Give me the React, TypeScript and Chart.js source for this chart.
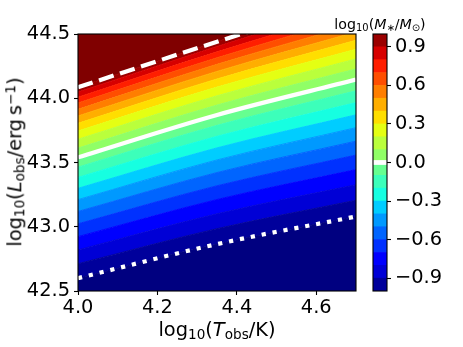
import React, { useEffect, useRef } from "react";
import { Chart, registerables } from "chart.js";

Chart.register(...registerables);
Chart.defaults.font.family = "'DejaVu Sans'";
Chart.defaults.color = "#000";

// ---- data ----
const LEVELS = [-1.0, -0.9, -0.8, -0.7, -0.6, -0.5, -0.4, -0.3, -0.2, -0.1, 0.0, 0.1, 0.2, 0.3, 0.4, 0.5, 0.6, 0.7, 0.8, 0.9, 1.0];
const T_NODES = [4.0, 4.35, 4.7];
// log10(L_obs) of each contour level at the three temperature nodes
const L_AT_T400 = [42.600, 42.712, 42.820, 42.923, 43.023, 43.119, 43.211, 43.299, 43.384, 43.464, 43.540, 43.612, 43.681, 43.745, 43.805, 43.862, 43.914, 43.963, 44.008, 44.048, 44.085];
const L_AT_T435 = [42.865, 42.985, 43.101, 43.212, 43.319, 43.422, 43.520, 43.614, 43.704, 43.789, 43.870, 43.947, 44.019, 44.087, 44.150, 44.209, 44.264, 44.315, 44.361, 44.403, 44.440];
const L_AT_T470 = [43.080, 43.206, 43.327, 43.445, 43.558, 43.666, 43.771, 43.871, 43.966, 44.058, 44.145, 44.228, 44.306, 44.381, 44.451, 44.516, 44.578, 44.635, 44.687, 44.736, 44.780];
const WHITE_LINE_LEVELS = [-1.0, 0.0, 1.0];
const X_TICKS = [4.0, 4.2, 4.4, 4.6];
const Y_TICKS = [42.5, 43.0, 43.5, 44.0, 44.5];
const CB_TICKS = [-0.9, -0.6, -0.3, 0.0, 0.3, 0.6, 0.9];

// ---- jet colormap ----
const JET_R = [[0, 0], [0.35, 0], [0.66, 1], [0.89, 1], [1, 0.5]];
const JET_G = [[0, 0], [0.125, 0], [0.375, 1], [0.64, 1], [0.91, 0], [1, 0]];
const JET_B = [[0, 0.5], [0.11, 1], [0.34, 1], [0.65, 0], [1, 0]];
function seg(pts: number[][], t: number) {
  for (let k = 1; k < pts.length; k++) {
    if (t <= pts[k][0]) {
      const [x0, y0] = pts[k - 1];
      const [x1, y1] = pts[k];
      return y0 + ((y1 - y0) * (t - x0)) / (x1 - x0);
    }
  }
  return pts[pts.length - 1][1];
}
function jet(v: number) {
  const i = Math.min(255, Math.max(0, Math.floor(v * 256)));
  const t = i / 255;
  const c = (p: number[][]) => Math.round(seg(p, t) * 255);
  return `rgb(${c(JET_R)},${c(JET_G)},${c(JET_B)})`;
}
const VMIN = LEVELS[0];
const VMAX = LEVELS[LEVELS.length - 1];
const bandColor = (i: number) => jet(((LEVELS[i - 1] + LEVELS[i]) / 2 - VMIN) / (VMAX - VMIN));

const L_TABLE = [L_AT_T400, L_AT_T435, L_AT_T470];
const levelData = (i: number) => T_NODES.map((t, j) => ({ x: t, y: L_TABLE[j][i] }));
const levelIndex = (v: number) => LEVELS.findIndex((l) => Math.abs(l - v) < 1e-9);

const framePlugin = {
  id: "frame",
  afterDraw(chart: any) {
    const { ctx, chartArea: a } = chart;
    ctx.save();
    ctx.strokeStyle = "#000";
    ctx.lineWidth = 1.1;
    ctx.strokeRect(a.left, a.top, a.right - a.left, a.bottom - a.top);
    ctx.restore();
  },
};

const sub: React.CSSProperties = { fontSize: "0.7em", verticalAlign: "-0.22em", lineHeight: 0 };
const sup: React.CSSProperties = { fontSize: "0.7em", verticalAlign: "0.45em", lineHeight: 0 };

export default function App() {
  const mainRef = useRef<HTMLCanvasElement>(null);
  const cbRef = useRef<HTMLCanvasElement>(null);

  useEffect(() => {
    const common = {
      pointRadius: 0,
      cubicInterpolationMode: "monotone" as const,
      order: 1,
    };
    const datasets: any[] = [];
    datasets.push({ ...common, data: levelData(0), fill: "start", backgroundColor: jet(0), borderColor: jet(0), borderWidth: 1 });
    for (let i = 1; i < LEVELS.length; i++) {
      datasets.push({
        ...common,
        data: levelData(i),
        fill: "-1",
        backgroundColor: bandColor(i),
        borderColor: bandColor(i),
        borderWidth: 1,
      });
    }
    datasets.push({
      ...common,
      data: levelData(LEVELS.length - 1),
      fill: "end",
      backgroundColor: jet(1),
      borderColor: "rgba(0,0,0,0)",
      borderWidth: 0,
    });
    const dashes = [[4.2, 6.9], [], [15.4, 6.7]];
    WHITE_LINE_LEVELS.forEach((lv, k) => {
      datasets.push({
        data: levelData(levelIndex(lv)),
        fill: false,
        pointRadius: 0,
        borderColor: "#fff",
        borderWidth: 4.2,
        borderDash: dashes[k],
        borderCapStyle: "butt",
        cubicInterpolationMode: "monotone",
        order: 0,
      });
    });

    const tickFont = { family: "'DejaVu Sans'", size: 19.4 };
    const main = new Chart(mainRef.current!, {
      type: "line",
      data: { datasets },
      plugins: [framePlugin],
      options: {
        animation: false,
        responsive: false,
        devicePixelRatio: 1,
        layout: { padding: { left: 0, right: 107, top: 34, bottom: 0 } },
        plugins: { legend: { display: false }, tooltip: { enabled: false } },
        scales: {
          x: {
            type: "linear",
            min: 4.0,
            max: 4.7,
            afterBuildTicks: (s: any) => {
              s.ticks = X_TICKS.map((v) => ({ value: v }));
            },
            afterFit: (s: any) => {
              s.height = 56;
            },
            ticks: {
              font: tickFont,
              color: "#000",
              padding: 1,
              maxRotation: 0,
              autoSkip: false,
              callback: (v: any) => Number(v).toFixed(1),
            },
            grid: { drawOnChartArea: false, tickLength: 4, color: "#000", tickWidth: 1.1 },
            border: { display: false },
          },
          y: {
            type: "linear",
            min: 42.5,
            max: 44.5,
            afterBuildTicks: (s: any) => {
              s.ticks = Y_TICKS.map((v) => ({ value: v }));
            },
            afterFit: (s: any) => {
              s.width = 78;
            },
            ticks: {
              font: tickFont,
              color: "#000",
              padding: 4,
              autoSkip: false,
              callback: (v: any) => Number(v).toFixed(1),
            },
            grid: { drawOnChartArea: false, tickLength: 4, color: "#000", tickWidth: 1.1 },
            border: { display: false },
          },
        },
      } as any,
    });

    const cbDatasets: any[] = [];
    for (let i = 1; i < LEVELS.length; i++) {
      cbDatasets.push({
        data: [[LEVELS[i - 1], LEVELS[i]]],
        backgroundColor: bandColor(i),
        borderWidth: 0,
        barPercentage: 1,
        categoryPercentage: 1,
        grouped: false,
        order: 1,
      });
    }
    cbDatasets.push({
      data: [[WHITE_LINE_LEVELS[1] - 0.016, WHITE_LINE_LEVELS[1] + 0.016]],
      backgroundColor: "#fff",
      borderWidth: 0,
      barPercentage: 1,
      categoryPercentage: 1,
      grouped: false,
      order: 0,
    });

    const cb = new Chart(cbRef.current!, {
      type: "bar",
      data: { labels: [""], datasets: cbDatasets },
      plugins: [framePlugin],
      options: {
        animation: false,
        responsive: false,
        devicePixelRatio: 1,
        layout: { padding: { left: 373, right: 16, top: 34, bottom: 56 } },
        plugins: { legend: { display: false }, tooltip: { enabled: false } },
        scales: {
          x: { display: false },
          y: {
            type: "linear",
            position: "right",
            min: VMIN,
            max: VMAX,
            afterBuildTicks: (s: any) => {
              s.ticks = CB_TICKS.map((v) => ({ value: v }));
            },
            afterFit: (s: any) => {
              s.width = 60;
            },
            ticks: {
              font: tickFont,
              color: "#000",
              padding: 4,
              autoSkip: false,
              callback: (v: any) => {
                const n = Number(v);
                if (Math.abs(n) < 1e-9) return "0.0";
                return (n < 0 ? "\u2212" : "") + Math.abs(n).toFixed(1);
              },
            },
            grid: { drawOnChartArea: false, tickLength: 4, color: "#000", tickWidth: 1.1 },
            border: { display: false },
          },
        },
      } as any,
    });

    return () => {
      main.destroy();
      cb.destroy();
    };
  }, []);

  return (
    <div
      style={{
        position: "fixed",
        left: 0,
        top: 0,
        width: 463,
        height: 347,
        background: "#fff",
        overflow: "hidden",
        fontFamily: "'DejaVu Sans'",
        color: "#000",
      }}
    >
      <canvas ref={mainRef} width={463} height={347} style={{ position: "absolute", left: 0, top: 0 }} />
      <canvas ref={cbRef} width={463} height={347} style={{ position: "absolute", left: 0, top: 0 }} />
      <div
        style={{
          position: "absolute",
          left: 217,
          top: 319.5,
          transform: "translateX(-50%)",
          fontSize: 19.4,
          lineHeight: "19.4px",
          whiteSpace: "nowrap",
        }}
      >
        log<span style={sub}>10</span>(<i>T</i>
        <span style={sub}>obs</span>/K)
      </div>
      <div
        style={{
          position: "absolute",
          left: 14.5,
          top: 162,
          transform: "translate(-50%, -50%) rotate(-90deg)",
          fontSize: 19.4,
          lineHeight: "19.4px",
          whiteSpace: "nowrap",
        }}
      >
        log<span style={sub}>10</span>(<i>L</i>
        <span style={sub}>obs</span>/erg{"\u2009"}s<span style={sup}>{"\u22121"}</span>)
      </div>
      <div
        style={{
          position: "absolute",
          left: 380,
          top: 16.5,
          transform: "translateX(-50%)",
          fontSize: 14.2,
          lineHeight: "14.2px",
          whiteSpace: "nowrap",
        }}
      >
        log<span style={sub}>10</span>(<i>M</i>
        <span style={sub}>{"\u2217"}</span>/<i>M</i>
        <span style={sub}>{"\u2299"}</span>)
      </div>
    </div>
  );
}
